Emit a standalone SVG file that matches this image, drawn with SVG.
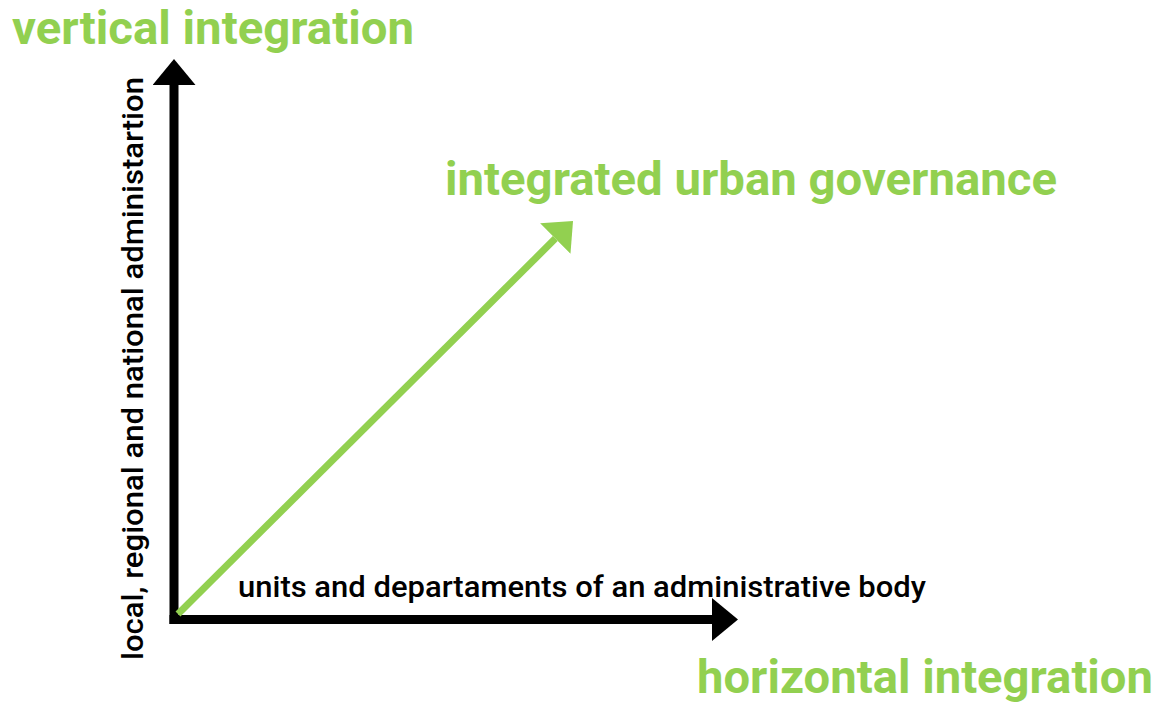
<svg xmlns="http://www.w3.org/2000/svg" width="1158" height="703" viewBox="0 0 1158 703">
  <style>
    .title { font-family: Roboto, "DejaVu Sans", sans-serif; font-weight: bold; font-size: 46px; fill: #92D050; }
    .label { font-family: Roboto, "DejaVu Sans", sans-serif; font-weight: 500; font-size: 29px; fill: #000000; }
    .axis { stroke: #000000; stroke-width: 9; fill: none; }
    .trend { stroke: #92D050; stroke-width: 7; fill: none; }
  </style>
  <defs>
    <marker id="head-black" viewBox="0 0 26 43" markerWidth="26" markerHeight="43" refX="0" refY="21.5" orient="auto" markerUnits="userSpaceOnUse">
      <path d="M0,0 L26,21.5 L0,43 z" fill="#000000"/>
    </marker>
    <marker id="head-green" viewBox="0 0 25 43" markerWidth="25" markerHeight="43" refX="0" refY="21.5" orient="auto" markerUnits="userSpaceOnUse">
      <path d="M0,0 L25,21.5 L0,43 z" fill="#92D050"/>
    </marker>
  </defs>

  <rect width="1158" height="703" fill="#ffffff"/>

  <g id="connectors">
    <line class="axis" x1="174" y1="624" x2="174" y2="85" marker-end="url(#head-black)"/>
    <line class="axis" x1="169.5" y1="619.5" x2="712" y2="619.5" marker-end="url(#head-black)"/>
    <line class="trend" x1="178" y1="614" x2="555.3" y2="238.6" marker-end="url(#head-green)"/>
  </g>

  <g id="vertical-integration">
    <text class="title" x="12" y="44" textLength="402" lengthAdjust="spacingAndGlyphs">vertical integration</text>
  </g>

  <g id="integrated-urban-governance">
    <text class="title" x="445" y="195" textLength="612" lengthAdjust="spacingAndGlyphs">integrated urban governance</text>
  </g>

  <g id="horizontal-integration">
    <text class="title" x="697" y="693" textLength="456" lengthAdjust="spacingAndGlyphs">horizontal integration</text>
  </g>

  <g id="vertical-axis-label">
    <text class="label" transform="translate(143 368.5) rotate(-90)" x="0" y="0" text-anchor="middle" textLength="583" lengthAdjust="spacingAndGlyphs">local, regional and national administartion</text>
  </g>

  <g id="horizontal-axis-label">
    <text class="label" x="238" y="597" textLength="688" lengthAdjust="spacingAndGlyphs">units and departaments of an administrative body</text>
  </g>
</svg>
